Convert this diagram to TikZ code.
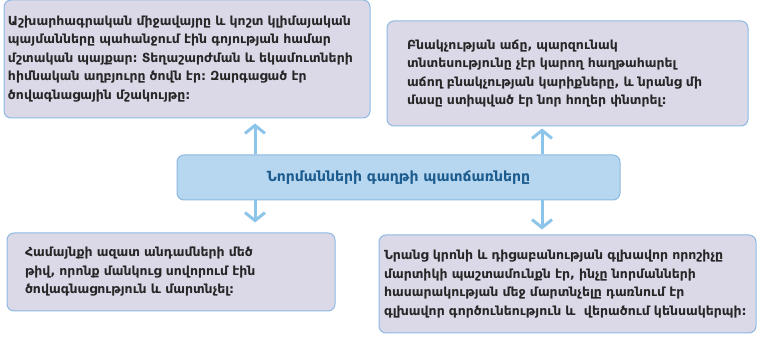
\documentclass[tikz,border=0pt]{standalone}
\usepackage{fontspec}
\setmainfont{DejaVu Sans}
\usepackage{xcolor}
\usepackage{tikz}
\usetikzlibrary{arrows.meta,positioning,calc}
\definecolor{boxfill}{HTML}{DBD8E8}
\definecolor{boxline}{HTML}{8DB9E2}
\definecolor{hubfill}{HTML}{B6D7EF}
\definecolor{hubtext}{HTML}{1D5C8E}
\definecolor{arrowblue}{HTML}{8CC4EA}
\frenchspacing

\begin{document}
\begin{tikzpicture}[x=1pt, y=-1pt,
    causebox/.style={draw=boxline, line width=1pt, fill=boxfill, rounded corners=7pt,
        align=left, font=\bfseries\fontsize{12.5}{18.5}\selectfont, text=black!85},
    hub/.style={draw=boxline, line width=1pt, fill=hubfill, rounded corners=7pt,
        font=\bfseries\fontsize{14}{16}\selectfont, text=hubtext},
    link/.style={draw=arrowblue, line width=3pt, -{Straight Barb[length=8pt,width=20pt]}}]
\useasboundingbox (0,0) rectangle (774,347);

\node[hub, minimum width=443pt, minimum height=45pt] (c) at (398.5,177.5) {Նորմանների գաղթի պատճառները};

\node[causebox, minimum width=366pt, minimum height=118pt, inner xsep=4pt, text width=358pt] (tl) at (187,59)
    {Աշխարհագրական միջավայրը և կոշտ կլիմայական\\ պայմանները պահանջում էին գոյության համար\\ մշտական պայքար: Տեղաշարժման և եկամուտների\\ հիմնական աղբյուրը ծովն էր: Զարգացած էր\\ ծովագնացային մշակույթը:};
\node[causebox, minimum width=361pt, minimum height=105pt, inner xsep=20pt, text width=321pt] (tr) at (567.5,73.5)
    {Բնակչության աճը, պարզունակ\\ տնտեսությունը չէր կարող հաղթահարել\\ աճող բնակչության կարիքները, և նրանց մի\\ մասը ստիպված էր նոր հողեր փնտրել:};
\node[causebox, minimum width=328pt, minimum height=78pt, inner xsep=18pt, text width=292pt] (bl) at (171,272)
    {Համայնքի ազատ անդամների մեծ\\ թիվ, որոնք մանկուց սովորում էին\\ ծովագնացություն և մարտնչել:};
\node[causebox, minimum width=377pt, minimum height=98pt, inner xsep=5pt, text width=367pt] (br) at (567.5,284)
    {Նրանց կրոնի և դիցաբանության գլխավոր որոշիչը\\ մարտիկի պաշտամունքն էր, ինչը նորմանների\\ հասարակության մեջ մարտնչելը դառնում էր\\ գլխավոր գործունեություն և\ \ վերածում կենսակերպի:};

\coordinate (la) at (255,0);
\coordinate (ra) at (542,0);
\draw[link, shorten >=5pt] (c.north -| la) -- (tl.south -| la);
\draw[link, shorten >=10pt] (c.south -| la) -- (bl.north -| la);
\draw[link, shorten >=2pt] (c.north -| ra) -- (tr.south -| ra);
\draw[link, shorten >=5pt] (c.south -| ra) -- (br.north -| ra);
\end{tikzpicture}
\end{document}
